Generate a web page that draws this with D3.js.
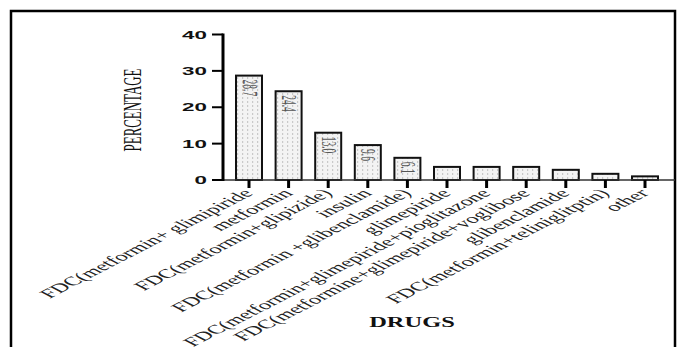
<!DOCTYPE html>
<html>
<head>
<meta charset="utf-8">
<script src="https://cdn.jsdelivr.net/npm/d3@7"></script>
<style>
  html, body { margin: 0; padding: 0; background: #fff; }
  svg { display: block; }
</style>
</head>
<body>
<svg id="chart" width="678" height="347"></svg>
<script>
const categories = [
  "FDC(metformin+ glimipiride",
  "metformin",
  "FDC(metformin+glipizide)",
  "insulin",
  "FDC(metformin +glibenclamide)",
  "glimepiride",
  "FDC(metformin+glimepiride+pioglitazone",
  "FDC(metformine+glimepiride+voglibose",
  "glibenclamide",
  "FDC(metformin+teliniglitptin)",
  "other"
];
const values = [28.7, 24.4, 13.0, 9.6, 6.1, 3.6, 3.6, 3.6, 2.8, 1.7, 1.0];
const valueLabels = ["28.7", "24.4", "13.0", "9.6", "6.1", "", "", "", "", "", ""];
const yTicks = [0, 10, 20, 30, 40];
const yTitle = "PERCENTAGE";
const xTitle = "DRUGS";

const svg = d3.select("#chart");

// stipple pattern for bars
const defs = svg.append("defs");
const pat = defs.append("pattern")
  .attr("id", "dots").attr("patternUnits", "userSpaceOnUse")
  .attr("width", 5).attr("height", 4);
pat.append("rect").attr("width", 5).attr("height", 4).attr("fill", "#f3f3f3");
pat.append("rect").attr("x", 2).attr("y", 1.5).attr("width", 1.2).attr("height", 1).attr("fill", "#a0a0a0");

// outer frame
svg.append("rect")
  .attr("x", 11).attr("y", 11).attr("width", 664).attr("height", 400)
  .attr("fill", "none").attr("stroke", "#000").attr("stroke-width", 2.5);

const x = d3.scalePoint().domain(categories).range([249, 645]);
const barW = 26;
const y = d3.scaleLinear().domain([0, 40]).range([180, 34.5]);
const axisX = 223;

// bars
svg.append("g").selectAll("rect").data(values).join("rect")
  .attr("x", (d, i) => x(categories[i]) - barW / 2)
  .attr("y", d => y(d))
  .attr("width", barW)
  .attr("height", d => y(0) - y(d))
  .attr("fill", "url(#dots)")
  .attr("stroke", "#111").attr("stroke-width", 2);

// value labels (rotated, stretched)
svg.append("g").selectAll("text").data(values).join("text")
  .attr("transform", (d, i) => `translate(${x(categories[i])},${y(d) + 4}) scale(2.2,1) rotate(90)`)
  .attr("text-anchor", "start")
  .attr("dominant-baseline", "central")
  .attr("font-family", "Liberation Serif, serif")
  .attr("font-size", 9.5)
  .attr("fill", "#555")
  .text((d, i) => valueLabels[i]);

// x axis line
svg.append("line")
  .attr("x1", axisX).attr("x2", 675).attr("y1", y(0)).attr("y2", y(0))
  .attr("stroke", "#333").attr("stroke-width", 1.5);
// x ticks
svg.append("g").selectAll("line").data(categories).join("line")
  .attr("x1", d => x(d)).attr("x2", d => x(d))
  .attr("y1", y(0)).attr("y2", y(0) + 8)
  .attr("stroke", "#000").attr("stroke-width", 3);

// y axis
svg.append("line")
  .attr("x1", axisX).attr("x2", axisX).attr("y1", y(40) - 1).attr("y2", y(0) + 1)
  .attr("stroke", "#000").attr("stroke-width", 3);
svg.append("g").selectAll("line").data(yTicks).join("line")
  .attr("x1", axisX - 11).attr("x2", axisX)
  .attr("y1", d => y(d)).attr("y2", d => y(d))
  .attr("stroke", "#000").attr("stroke-width", 2);
svg.append("g").selectAll("text").data(yTicks).join("text")
  .attr("transform", d => `translate(${axisX - 16},${y(d) + 4}) scale(2,1)`)
  .attr("text-anchor", "end")
  .attr("font-family", "Liberation Sans, Arial, sans-serif")
  .attr("font-weight", "bold")
  .attr("font-size", 11.2)
  .attr("fill", "#111")
  .text(d => d);

// category labels
svg.append("g").selectAll("text").data(categories).join("text")
  .attr("transform", d => `translate(${x(d) + 5},${y(0) + 14}) scale(1.95,1) rotate(-45)`)
  .attr("text-anchor", "end")
  .attr("font-family", "Liberation Serif, serif")
  .attr("font-size", 12.6)
  .attr("fill", "#222")
  .text(d => d);

// axis titles
svg.append("text")
  .attr("transform", "translate(141,110) scale(1.9,1) rotate(-90)")
  .attr("text-anchor", "middle")
  .attr("font-family", "Liberation Serif, serif")
  .attr("font-size", 12.9)
  .attr("fill", "#111")
  .text(yTitle);
svg.append("text")
  .attr("transform", "translate(412,327) scale(1.8,1)")
  .attr("text-anchor", "middle")
  .attr("font-family", "Liberation Serif, serif")
  .attr("font-weight", "bold")
  .attr("font-size", 13.6)
  .attr("fill", "#111")
  .text(xTitle);
</script>
</body>
</html>
